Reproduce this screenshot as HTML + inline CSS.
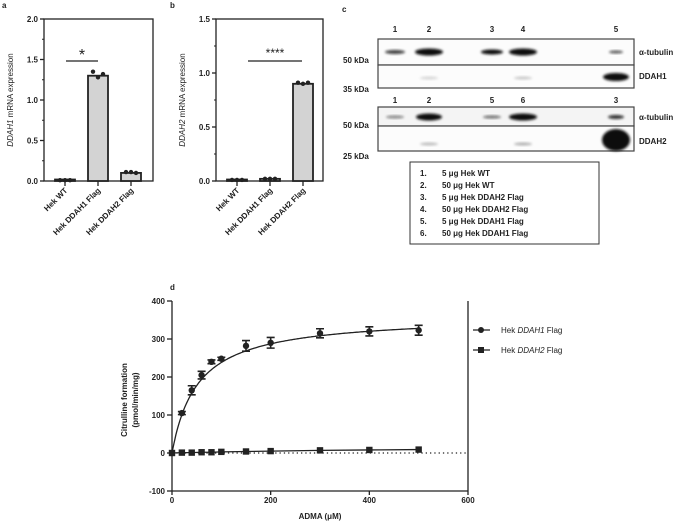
<!DOCTYPE html>
<html><head><meta charset="utf-8"><style>
html,body{margin:0;padding:0;background:#fff;}
svg{display:block;font-family:"Liberation Sans",Arial,sans-serif;}
.t{font-size:8px;fill:#222;}
.b{font-weight:bold;}
</style></head><body>
<svg id="fig" width="683" height="528" viewBox="0 0 683 528">
<defs><filter id="blur" x="-50%" y="-50%" width="200%" height="200%"><feGaussianBlur stdDeviation="1.2"/></filter></defs>
<g id="pa"></g>
<g id="pb"></g>
<g id="pc"></g>
<g id="pd"></g>
</svg>
<script>
const NS="http://www.w3.org/2000/svg";
function mk(p,tag,at,txt){const e=document.createElementNS(NS,tag);for(const k in at)e.setAttribute(k,at[k]);if(txt!==undefined)e.textContent=txt;p.appendChild(e);return e;}

// ---- Panel a/b data ----
const barCats=["Hek WT","Hek DDAH1 Flag","Hek DDAH2 Flag"];
const aMeans=[0.01,1.30,0.10];
const aDots=[[0.01,0.01,0.01],[1.35,1.28,1.32],[0.11,0.11,0.1]];
const aTicks=[0,0.5,1.0,1.5,2.0];
const bMeans=[0.01,0.02,0.90];
const bDots=[[0.01,0.01,0.01],[0.02,0.02,0.02],[0.91,0.90,0.91]];
const bTicks=[0,0.5,1.0,1.5];

function barPanel(g,L,R,ymax,ticks,means,dots,title,titleIt,letter,letterX,sig,sigX1,sigX2,sigSize){
  const T=19,B=181;
  const y=v=>B-v/ymax*(B-T);
  const x=i=>L+21+i*33;
  const lt=mk(g,'text',{x:letterX,y:8,class:'t b','font-size':'8'},letter);
  
  const ax=mk(g,'rect',{x:L,y:T,width:R-L,height:B-T,fill:'none',stroke:'#222','stroke-width':1.3});
  
  ticks.forEach(v=>{mk(g,'line',{x1:L-4,x2:L,y1:y(v),y2:y(v),stroke:'#222','stroke-width':1.3});
    const t=mk(g,'text',{x:L-6,y:y(v)+3,class:'t b','font-size':'8.5','text-anchor':'end'},v.toFixed(1));
    
    mk(g,'line',{x1:L-2,x2:L,y1:y(v+(ticks[1]-ticks[0])/2),y2:y(v+(ticks[1]-ticks[0])/2),stroke:'#222','stroke-width':1});});
  means.forEach((m,i)=>{
    const h=Math.max(B-y(m),1.5);
    const r=mk(g,'rect',{x:x(i)-10,y:B-h,width:20,height:h,fill:'#d3d3d3',stroke:'#222','stroke-width':1.8});
    
    dots[i].forEach((d,j)=>{const c=mk(g,'circle',{cx:x(i)-5+j*5,cy:y(d),r:2.2,fill:'#222'});});
    mk(g,'line',{x1:x(i),x2:x(i),y1:B,y2:B+5,stroke:'#222','stroke-width':1.3});
    const tl=mk(g,'text',{x:0,y:0,class:'t b','font-size':'8.5','text-anchor':'end',transform:`translate(${x(i)+3},${B+10}) rotate(-45)`},barCats[i]);
    
  });
  const yt=mk(g,'text',{x:0,y:0,class:'t','text-anchor':'middle',transform:`translate(${L-31},${(T+B)/2}) rotate(-90)`});
  
  mk(yt,'tspan',{'font-style':'italic'},titleIt);mk(yt,'tspan',{},' mRNA expression');
  mk(g,'line',{x1:sigX1,x2:sigX2,y1:61,y2:61,stroke:'#222','stroke-width':1.2});
  const s=mk(g,'text',{x:(sigX1+sigX2)/2,y:sigSize>13?60:57,'font-size':sigSize,'text-anchor':'middle',fill:'#222'},sig);
  
}
barPanel(document.getElementById('pa'),44,153,2.0,aTicks,aMeans,aDots,'','DDAH1','a',2,'*',66,98,16);
barPanel(document.getElementById('pb'),216,323,1.5,bTicks,bMeans,bDots,'','DDAH2','b',170,'****',248,302,12);

// ---- Panel c blot ----
const gc=document.getElementById('pc');
mk(gc,'text',{x:342,y:12,class:'t b'},'c');
const boxes=[[39,65],[65,88],[107,126],[126,151]];
boxes.forEach((bx,i)=>{const r=mk(gc,'rect',{x:378,y:bx[0],width:256,height:bx[1]-bx[0],fill:i==2?'#f4f4f4':'#fcfcfc',stroke:'#444','stroke-width':1.2});
 });
const laneX=[395,429,492,523,616];
const laneTop=["1","2","3","4","5"],laneBot=["1","2","5","6","3"];
laneX.forEach((lx,i)=>{mk(gc,'text',{x:lx,y:32,class:'t b','text-anchor':'middle'},laneTop[i]);mk(gc,'text',{x:lx,y:103,class:'t b','text-anchor':'middle'},laneBot[i]);});
[["50 kDa",63],["35 kDa",92],["50 kDa",128],["25 kDa",159]].forEach(k=>{const t=mk(gc,'text',{x:343,y:k[1],class:'t b'},k[0]);});
[["α-tubulin",55],["DDAH1",79],["α-tubulin",120],["DDAH2",144]].forEach(k=>{const t=mk(gc,'text',{x:639,y:k[1],class:'t b'},k[0]);});
const bands=[[395,52,10,2,.8],[429,52,14,3.5,1],[492,52,11,2.5,1],[523,52,14,3.5,1],[616,52,7,1.5,.7],
 [429,78,9,1.5,.15],[523,78,9,1.5,.2],[616,77,13,4,1],
 [395,117,9,1.5,.5],[429,117,13,3.5,1],[492,117,9,1.5,.6],[523,117,14,3.5,1],[616,117,8,2,.85],
 [429,144,9,1.5,.25],[523,144,9,1.5,.3],[616,140,14,11,1]];
bands.forEach(b=>{const e=mk(gc,'ellipse',{cx:b[0],cy:b[1],rx:b[2],ry:b[3],fill:'#111','fill-opacity':b[4],filter:'url(#blur)'});});
const lg=mk(gc,'rect',{x:410,y:162,width:189,height:82,fill:'#fff',stroke:'#333','stroke-width':1});

["5 μg Hek WT","50 μg Hek WT","5 μg Hek DDAH2 Flag","50 μg Hek DDAH2 Flag","5 μg Hek DDAH1 Flag","50 μg Hek DDAH1 Flag"].forEach((s,i)=>{
 mk(gc,'text',{x:420,y:176+i*12,class:'t b'},(i+1)+'.');mk(gc,'text',{x:442,y:176+i*12,class:'t b'},s);});

// ---- Panel d data ----
const adma=[0,20,40,60,80,100,150,200,300,400,500];
const d1=[0,105,165,205,240,248,282,290,315,320,323];
const d1err=[0,4,12,10,5,4,14,14,12,12,13];
const d2=[0,1,1,2,2,3,4,5,7,8,9];
const fitVmax=362, fitKm=52;
const xTicks=[0,200,400,600], yTicks=[-100,0,100,200,300,400];
const gd=document.getElementById('pd');
const X=v=>172+v/600*296, Y=v=>453-v/100*38;
mk(gd,'text',{x:170,y:290,class:'t b'},'d');
mk(gd,'line',{x1:172,x2:468,y1:Y(0),y2:Y(0),stroke:'#222','stroke-width':1.3,'stroke-dasharray':'1.3 3'});
const fr=mk(gd,'path',{d:`M172 ${Y(-100)}V${Y(400)}M468 ${Y(-100)}V${Y(400)}M172 ${Y(-100)}H468`,fill:'none',stroke:'#222','stroke-width':1.3});

yTicks.forEach(v=>{mk(gd,'line',{x1:167,x2:172,y1:Y(v),y2:Y(v),stroke:'#222','stroke-width':1.3});
 const t=mk(gd,'text',{x:165,y:Y(v)+3,class:'t b','font-size':'8.5','text-anchor':'end'},v);});
xTicks.forEach(v=>{mk(gd,'line',{x1:X(v),x2:X(v),y1:Y(-100),y2:Y(-100)+4,stroke:'#222','stroke-width':1.3});
 const t=mk(gd,'text',{x:X(v),y:503,class:'t b','font-size':'9','text-anchor':'middle'},v);});
const xt=mk(gd,'text',{x:320,y:519,class:'t b','text-anchor':'middle'},'ADMA (μM)');
const yt=mk(gd,'text',{x:0,y:0,class:'t b','text-anchor':'middle',transform:'translate(127,400) rotate(-90)'});

mk(yt,'tspan',{x:0,y:0},'Citrulline formation');mk(yt,'tspan',{x:0,y:11},'(pmol/min/mg)');
let p='';for(let s=0;s<=500;s+=2){p+=(s?'L':'M')+X(s).toFixed(1)+' '+Y(fitVmax*s/(fitKm+s)).toFixed(1);}
const fl=mk(gd,'path',{d:p,fill:'none',stroke:'#222','stroke-width':1.3});
let p2='';adma.forEach((a,i)=>{p2+=(i?'L':'M')+X(a)+' '+Y(d2[i]);});
const l2=mk(gd,'path',{d:p2,fill:'none',stroke:'#222','stroke-width':1.3});
adma.forEach((a,i)=>{
 if(d1err[i]>3){mk(gd,'path',{d:`M${X(a)} ${Y(d1[i]+d1err[i])}V${Y(d1[i]-d1err[i])}M${X(a)-4} ${Y(d1[i]+d1err[i])}h8M${X(a)-4} ${Y(d1[i]-d1err[i])}h8`,stroke:'#222','stroke-width':1.6,fill:'none'});}
 const c=mk(gd,'circle',{cx:X(a),cy:Y(d1[i]),r:3.2,fill:'#222'});
 const s=mk(gd,'rect',{x:X(a)-3.2,y:Y(d2[i])-3.2,width:6.4,height:6.4,fill:'#222'});
});
const le1=mk(gd,'g',{});
mk(le1,'line',{x1:473,x2:490,y1:330,y2:330,stroke:'#222','stroke-width':1.3});mk(le1,'circle',{cx:481,cy:330,r:3,fill:'#222'});
const t1=mk(le1,'text',{x:501,y:333,class:'t','font-size':'8.5'});mk(t1,'tspan',{},'Hek ');mk(t1,'tspan',{'font-style':'italic'},'DDAH1');mk(t1,'tspan',{},' Flag');
const le2=mk(gd,'g',{});
mk(le2,'line',{x1:473,x2:490,y1:350,y2:350,stroke:'#222','stroke-width':1.3});mk(le2,'rect',{x:478,y:347,width:6,height:6,fill:'#222'});
const t2=mk(le2,'text',{x:501,y:353,class:'t','font-size':'8.5'});mk(t2,'tspan',{},'Hek ');mk(t2,'tspan',{'font-style':'italic'},'DDAH2');mk(t2,'tspan',{},' Flag');
</script>
</body></html>
